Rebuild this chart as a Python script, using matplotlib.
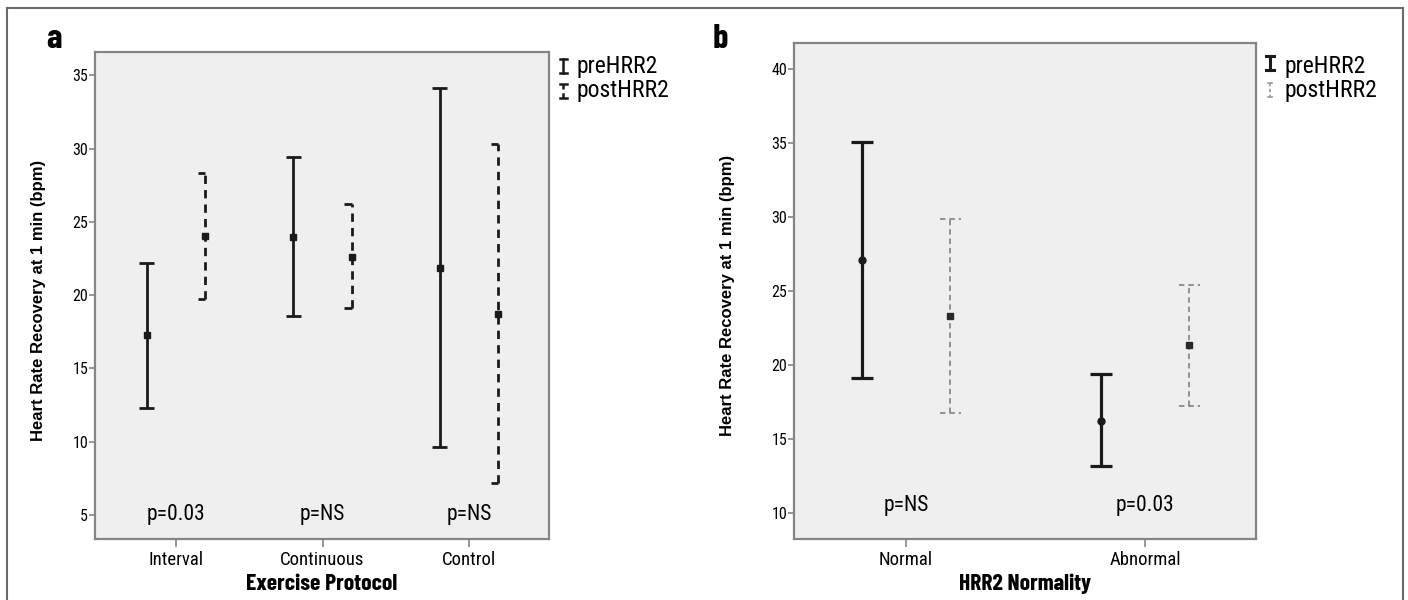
import matplotlib.pyplot as plt
from matplotlib.lines import Line2D
import numpy as np

# panel a: exercise protocol
protocols = ["Interval", "Continuous", "Control"]
pre_a_mean = [17.25, 24.0, 21.85]
pre_a_low = [12.3, 18.55, 9.6]
pre_a_high = [22.2, 29.45, 34.15]
post_a_mean = [24.05, 22.6, 18.7]
post_a_low = [19.75, 19.15, 7.2]
post_a_high = [28.35, 26.25, 30.3]
p_a = ["p=0.03", "p=NS", "p=NS"]

# panel b: HRR2 normality
normality = ["Normal", "Abnormal"]
pre_b_mean = [27.1, 16.25]
pre_b_low = [19.15, 13.2]
pre_b_high = [35.1, 19.4]
post_b_mean = [23.35, 21.35]
post_b_low = [16.75, 17.25]
post_b_high = [29.9, 25.4]
p_b = ["p=NS", "p=0.03"]

NARROW = ["Roboto Condensed", "DejaVu Sans"]
NARROW_BOLD = ["Barlow Condensed", "DejaVu Sans"]
BOLDF = ["Liberation Sans", "DejaVu Sans"]
SPINE = "#858585"
FACE = "#efefef"

fig = plt.figure(figsize=(14.08, 6), dpi=100)

# outer frame
for xs, ys in [([0.005, 0.005], [0.0, 0.987]), ([0.005, 0.9965], [0.987, 0.987]),
               ([0.9965, 0.9965], [0.0, 0.987])]:
    fig.add_artist(Line2D(xs, ys, color="#6a6a6a", lw=1.5, transform=fig.transFigure))


def errbars(ax, x, mean, low, high, color, lw, capw, dashed, half_cap=False, ms=5,
            marker="s", mcolor=None):
    x = np.asarray(x, dtype=float)
    mean = np.asarray(mean)
    yerr = [mean - np.asarray(low), np.asarray(high) - mean]
    mc = mcolor or color
    eb = ax.errorbar(x, mean, yerr=yerr, fmt=marker, color=color, ms=ms, mfc=mc, mec=mc,
                     elinewidth=lw, capsize=0, zorder=3)
    ls = (0, (3, 2.2)) if dashed else "-"
    eb[2][0].set_linestyle(ls)
    if half_cap:
        x0, x1 = x - capw, x
    else:
        x0, x1 = x - capw, x + capw
    for lvl in (low, high):
        ax.hlines(lvl, x0, x1, colors=color, lw=lw, linestyles=ls, zorder=3)


def style_axes(ax, cats, xlabel, ylim, yticks, xlim, ylab_x):
    ax.set_facecolor(FACE)
    ax.set_xlim(*xlim)
    ax.set_ylim(*ylim)
    ax.set_xticks(range(len(cats)))
    ax.set_xticklabels(cats, fontfamily=NARROW, fontsize=13.5)
    ax.set_yticks(yticks)
    ax.set_yticklabels([str(v) for v in yticks], fontfamily=NARROW, fontsize=11.5)
    for s in ax.spines.values():
        s.set_color(SPINE)
        s.set_linewidth(1.6)
    ax.tick_params(axis="y", length=4, width=1.2, color=SPINE, pad=1)
    ax.tick_params(axis="x", length=6, width=1.2, color=SPINE, pad=3)
    ax.set_xlabel(xlabel, fontfamily=NARROW_BOLD, fontweight="bold", fontsize=17, labelpad=3)
    ax.set_ylabel("Heart Rate Recovery at 1 min (bpm)", fontfamily=BOLDF,
                  fontweight="bold", fontsize=12)
    ax.yaxis.set_label_coords(ylab_x, 0.49)


# panel a
ax1 = fig.add_axes([0.0675, 0.1017, 0.3224, 0.8117])
xa = np.arange(len(protocols))
errbars(ax1, xa - 0.2, pre_a_mean, pre_a_low, pre_a_high, "#1a1a1a", 2.0, 0.05, False)
errbars(ax1, xa + 0.2, post_a_mean, post_a_low, post_a_high, "#1a1a1a", 2.0, 0.05, True,
        half_cap=True)
style_axes(ax1, protocols, "Exercise Protocol", (3.35, 36.6), [5, 10, 15, 20, 25, 30, 35],
           (-0.553, 2.546), -0.108)
for i, t in enumerate(p_a):
    ax1.text(xa[i], 5.0, t, ha="center", va="center", fontfamily=NARROW, fontsize=15.5)

# panel b
ax2 = fig.add_axes([0.564, 0.1017, 0.328, 0.8267])
xb = np.arange(len(normality))
errbars(ax2, xb - 0.185, pre_b_mean, pre_b_low, pre_b_high, "#1a1a1a", 2.3, 0.045, False,
        marker="o", ms=5)
errbars(ax2, xb + 0.185, post_b_mean, post_b_low, post_b_high, "#8a8a8a", 1.3, 0.045, True,
        ms=4, mcolor="#2a2a2a")
style_axes(ax2, normality, "HRR2 Normality", (8.26, 41.76), [10, 15, 20, 25, 30, 35, 40],
           (-0.469, 1.464), -0.128)
for i, t in enumerate(p_b):
    ax2.text(xb[i], 10.55, t, ha="center", va="center", fontfamily=NARROW, fontsize=15.5)

# panel letters
fig.text(54 / 1408, 1 - 39 / 600, "a", fontsize=25, fontweight="bold", fontfamily=NARROW_BOLD,
         ha="center", va="center")
fig.text(720 / 1408, 1 - 39 / 600, "b", fontsize=25, fontweight="bold", fontfamily=NARROW_BOLD,
         ha="center", va="center")


# legends (keys drawn in figure pixel coords)
def legend_key(xpix, ypix, color, lw, dashed, half=4):
    X = xpix / 1408
    y0 = 1 - (ypix - 7) / 600
    y1 = 1 - (ypix + 7) / 600
    ls = (0, (2, 1.5)) if dashed else "-"
    fig.add_artist(Line2D([X, X], [y0, y1], color=color, lw=lw, ls=ls,
                          transform=fig.transFigure))
    for yy in (y0, y1):
        fig.add_artist(Line2D([X - half / 1408, X + half / 1408], [yy, yy], color=color,
                              lw=lw, transform=fig.transFigure))


legend_key(563, 66, "#1a1a1a", 1.8, False, half=3.5)
legend_key(563, 91, "#1a1a1a", 1.8, True, half=3.5)
fig.text(576 / 1408, 1 - 66 / 600, "preHRR2", fontfamily=NARROW, fontsize=17, va="center")
fig.text(576 / 1408, 1 - 91 / 600, "postHRR2", fontfamily=NARROW, fontsize=17, va="center")

legend_key(1270, 63, "#1a1a1a", 2.2, False)
legend_key(1270, 90, "#9a9a9a", 1.2, True, half=2)
fig.text(1285 / 1408, 1 - 66 / 600, "preHRR2", fontfamily=NARROW, fontsize=17, va="center")
fig.text(1285 / 1408, 1 - 91 / 600, "postHRR2", fontfamily=NARROW, fontsize=17, va="center")

fig.savefig("out.png", dpi=100, facecolor="white")
